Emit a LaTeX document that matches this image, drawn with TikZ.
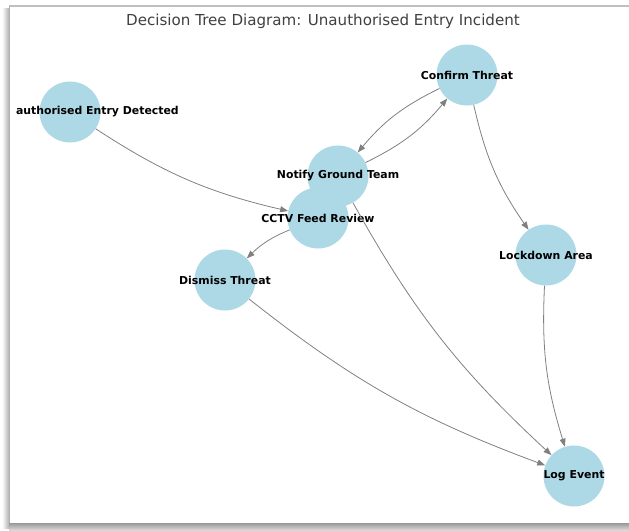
\documentclass[tikz,border=0pt]{standalone}
\usepackage{fontspec}
\setmainfont{DejaVu Sans}
\usepackage{xcolor}
\usetikzlibrary{arrows.meta, calc, positioning}

\definecolor{nodeblue}{HTML}{ADD8E6}

\begin{document}
\begin{tikzpicture}[x=1pt, y=-1pt,
  state/.style={circle, fill=nodeblue, minimum size=61pt, inner sep=0pt},
  tag/.style={font=\fontsize{10.9}{12}\selectfont\bfseries, inner sep=0pt},
  link/.style={draw=gray, line width=0.8pt, -{Triangle[length=8pt,width=6pt]}}]
\useasboundingbox (0,0) rectangle (629,530);

% Frame and shadow
\shade[left color=white, right color=black!30] (2,8) rectangle (9,528);
\shade[top color=black!40, bottom color=black!15] (9,523) rectangle (629,530);
\draw[black!25, line width=2pt] (9,6) -- (629,6);
\draw[black!30, line width=1pt] (9.5,6) -- (9.5,523);

% Title
\node[font=\fontsize{15.1}{17}\selectfont, text=black!75] (title) at (323,21)
  {Decision Tree Diagram: Unauthorised Entry Incident};

% Nodes
\node[state] (entry) at (70,112) {};
\node[state] (notify) at (338,176) {};
\node[state] (cctv) at (318,218) {};
\node[state] (confirm) at (467,75) {};
\node[state] (dismiss) at (225,280) {};
\node[state] (lockdown) at (546,255) {};
\node[state] (logevt) at (574,476) {};

% Labels
\node[tag, anchor=east] (entry-txt) at ([xshift=109pt]entry.center) {authorised Entry Detected};
\node[tag] (notify-txt) at (notify) {Notify Ground Team};
\node[tag] (cctv-txt) at (cctv) {CCTV Feed Review};
\node[tag] (confirm-txt) at (confirm) {Confirm Threat};
\node[tag] (dismiss-txt) at (dismiss) {Dismiss Threat};
\node[tag] (lockdown-txt) at (lockdown) {Lockdown Area};
\node[tag] (logevt-txt) at (logevt) {Log Event};

% Edges
\draw[link] (entry) to[bend right=10] (cctv);
\draw[link] (cctv) to[bend right=11] (dismiss);
\draw[link] (notify) to[bend right=12] (confirm);
\draw[link] (confirm) to[bend right=12] (notify);
\draw[link] (notify) to[bend right=9] (logevt);
\draw[link] (confirm) to[bend right=11] (lockdown);
\draw[link] (lockdown) to[bend right=10] (logevt);
\draw[link] (dismiss) to[bend right=9] (logevt);

\end{tikzpicture}
\end{document}
